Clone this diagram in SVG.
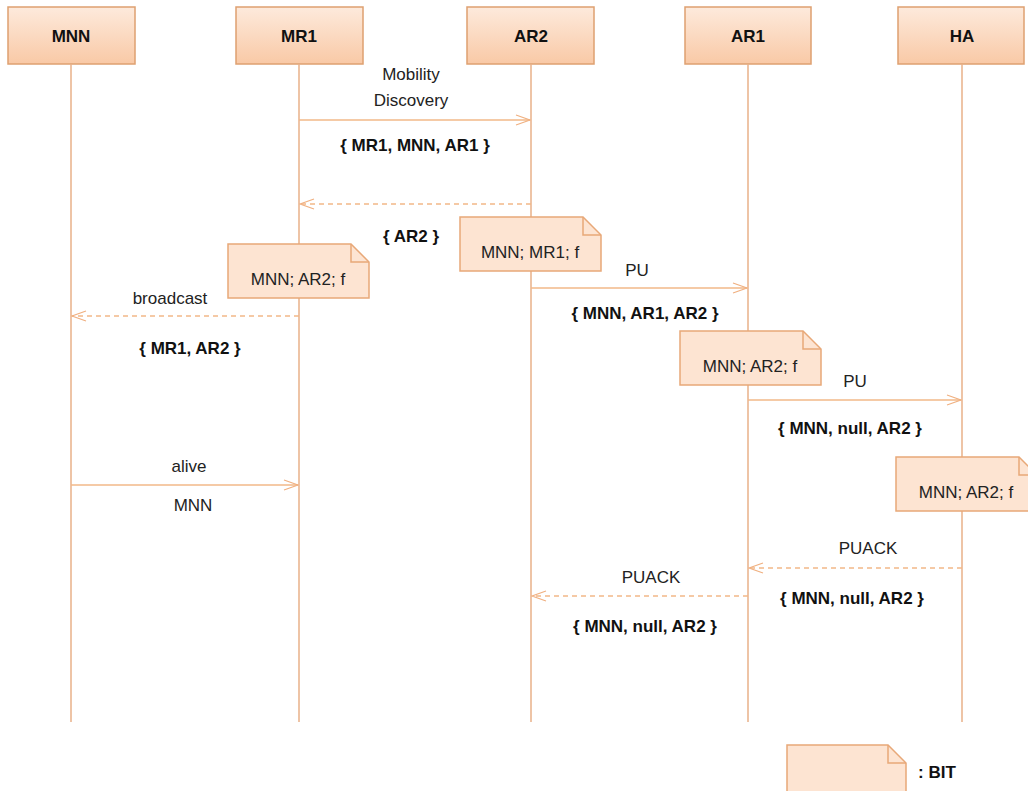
<svg xmlns="http://www.w3.org/2000/svg" width="1028" height="791" viewBox="0 0 1028 791">
<defs>
<linearGradient id="g" x1="0" y1="0" x2="0" y2="1">
<stop offset="0" stop-color="#fdeadc"/>
<stop offset="1" stop-color="#f9c9a6"/>
</linearGradient>
<marker id="arr" markerWidth="16" markerHeight="12" refX="15" refY="6" orient="auto" markerUnits="userSpaceOnUse">
<path d="M1,1 L15,6 L1,11" fill="none" stroke="#f0b080" stroke-width="1.2"/>
</marker>
<symbol id="note" overflow="visible">
<path d="M0,0 H123 L141,18 V54 H0 Z" fill="#fde4d2" stroke="#e8a878" stroke-width="1.5"/>
<path d="M123,0 V18 H141" fill="none" stroke="#e8a878" stroke-width="1.5"/>
</symbol>
</defs>
<style>
.hdr{fill:url(#g);stroke:#dea070;stroke-width:1.5}
.ht{font-family:"Liberation Sans Narrow","Liberation Sans",Arial,sans-serif;font-weight:bold;font-size:17px;fill:#111;text-anchor:middle}
.life{stroke:#e8b088;stroke-width:1.5}
.msg{stroke:#f2b888;stroke-width:1.3;fill:none;marker-end:url(#arr)}
.dash{stroke-dasharray:5,4}
.t{font-family:"Liberation Sans Narrow","Liberation Sans",Arial,sans-serif;font-size:17px;fill:#222;text-anchor:middle}
.b{font-weight:bold;fill:#111}
.s{text-anchor:start}
</style>
<rect width="1028" height="791" fill="#fff"/>
<g id="MNN"><rect class="hdr" x="8" y="7" width="127" height="57"/><text class="ht" x="71" y="42">MNN</text></g>
<g id="MR1"><rect class="hdr" x="236" y="7" width="127" height="57"/><text class="ht" x="299" y="42">MR1</text></g>
<g id="AR2"><rect class="hdr" x="467" y="7" width="127" height="57"/><text class="ht" x="531" y="42">AR2</text></g>
<g id="AR1"><rect class="hdr" x="685" y="7" width="126" height="57"/><text class="ht" x="748" y="42">AR1</text></g>
<g id="HA"><rect class="hdr" x="898" y="7" width="126" height="57"/><text class="ht" x="962" y="42">HA</text></g>
<g id="lifelines">
<line class="life" x1="71" y1="64" x2="71" y2="722"/>
<line class="life" x1="299" y1="64" x2="299" y2="722"/>
<line class="life" x1="531" y1="64" x2="531" y2="722"/>
<line class="life" x1="748" y1="64" x2="748" y2="722"/>
<line class="life" x1="962" y1="64" x2="962" y2="722"/>
</g>
<g id="connectors">
<line class="msg" x1="299" y1="120" x2="530" y2="120"/>
<line class="msg dash" x1="531" y1="204" x2="300" y2="204"/>
<line class="msg" x1="531" y1="288" x2="747" y2="288"/>
<line class="msg dash" x1="299" y1="316" x2="72" y2="316"/>
<line class="msg" x1="748" y1="400" x2="961" y2="400"/>
<line class="msg" x1="71" y1="485" x2="298" y2="485"/>
<line class="msg dash" x1="962" y1="568" x2="749" y2="568"/>
<line class="msg dash" x1="748" y1="596" x2="532" y2="596"/>
</g>
<g id="labels">
<text class="t" x="411" y="80">Mobility</text>
<text class="t" x="411" y="106">Discovery</text>
<text class="t b" x="415" y="151">{ MR1, MNN, AR1 }</text>
<text class="t b" x="411" y="242">{ AR2 }</text>
<text class="t" x="637" y="276">PU</text>
<text class="t b" x="645" y="319">{ MNN, AR1, AR2 }</text>
<text class="t" x="170" y="304">broadcast</text>
<text class="t b" x="190" y="354">{ MR1, AR2 }</text>
<text class="t" x="855" y="387">PU</text>
<text class="t b" x="850" y="434">{ MNN, null, AR2 }</text>
<text class="t" x="189" y="472">alive</text>
<text class="t" x="193" y="511">MNN</text>
<text class="t" x="868" y="554">PUACK</text>
<text class="t b" x="852" y="604">{ MNN, null, AR2 }</text>
<text class="t" x="651" y="583">PUACK</text>
<text class="t b" x="645" y="632">{ MNN, null, AR2 }</text>
</g>
<g id="note1"><use href="#note" x="460" y="217"/><text class="t" x="530" y="258">MNN; MR1; f</text></g>
<g id="note2"><use href="#note" x="228" y="244"/><text class="t" x="298" y="285">MNN; AR2; f</text></g>
<g id="note3"><use href="#note" x="680" y="331"/><text class="t" x="750" y="372">MNN; AR2; f</text></g>
<g id="note4"><use href="#note" x="896" y="457"/><text class="t" x="966" y="498">MNN; AR2; f</text></g>
<g id="legend"><path d="M787,745 H888 L906,763 V800 H787 Z" fill="#fde4d2" stroke="#e8a878" stroke-width="1.5"/><path d="M888,745 V763 H906" fill="none" stroke="#e8a878" stroke-width="1.5"/><text class="t b s" x="918" y="778">: BIT</text></g>
</svg>
